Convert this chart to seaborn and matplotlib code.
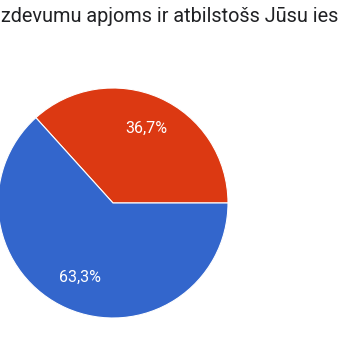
import matplotlib
matplotlib.use("Agg")
import matplotlib.pyplot as plt
import seaborn as sns

title_text = "zdevumu apjoms ir atbilstošs Jūsu ies"
categories = ["Nē", "Jā"]
shares = [36.7, 63.3]
labels = ["36,7%", "63,3%"]
colors = ["#DC3912", "#3366CC"]

sns.set_theme(style="white")
plt.rcParams['font.family'] = ['Roboto', 'DejaVu Sans']

fig = plt.figure(figsize=(3.43, 3.43), dpi=100)
ax = fig.add_axes([0, 0, 1, 1])

wedges, texts = ax.pie(shares, labels=labels, colors=colors, startangle=0,
                       counterclock=True, center=(113, 140), radius=115,
                       labeldistance=0.71, frame=True,
                       wedgeprops=dict(edgecolor='white', linewidth=0.8),
                       textprops=dict(color='white', fontsize=11.5,
                                      ha='center', va='center'))
ax.set_xlim(0, 343)
ax.set_ylim(0, 343)
ax.set_aspect('equal')
ax.axis('off')

fig.text(0.002, 1 - 16/343, title_text, ha='left', va='center',
         fontsize=14.3, color='#202124')

fig.savefig("out.png", dpi=100)
